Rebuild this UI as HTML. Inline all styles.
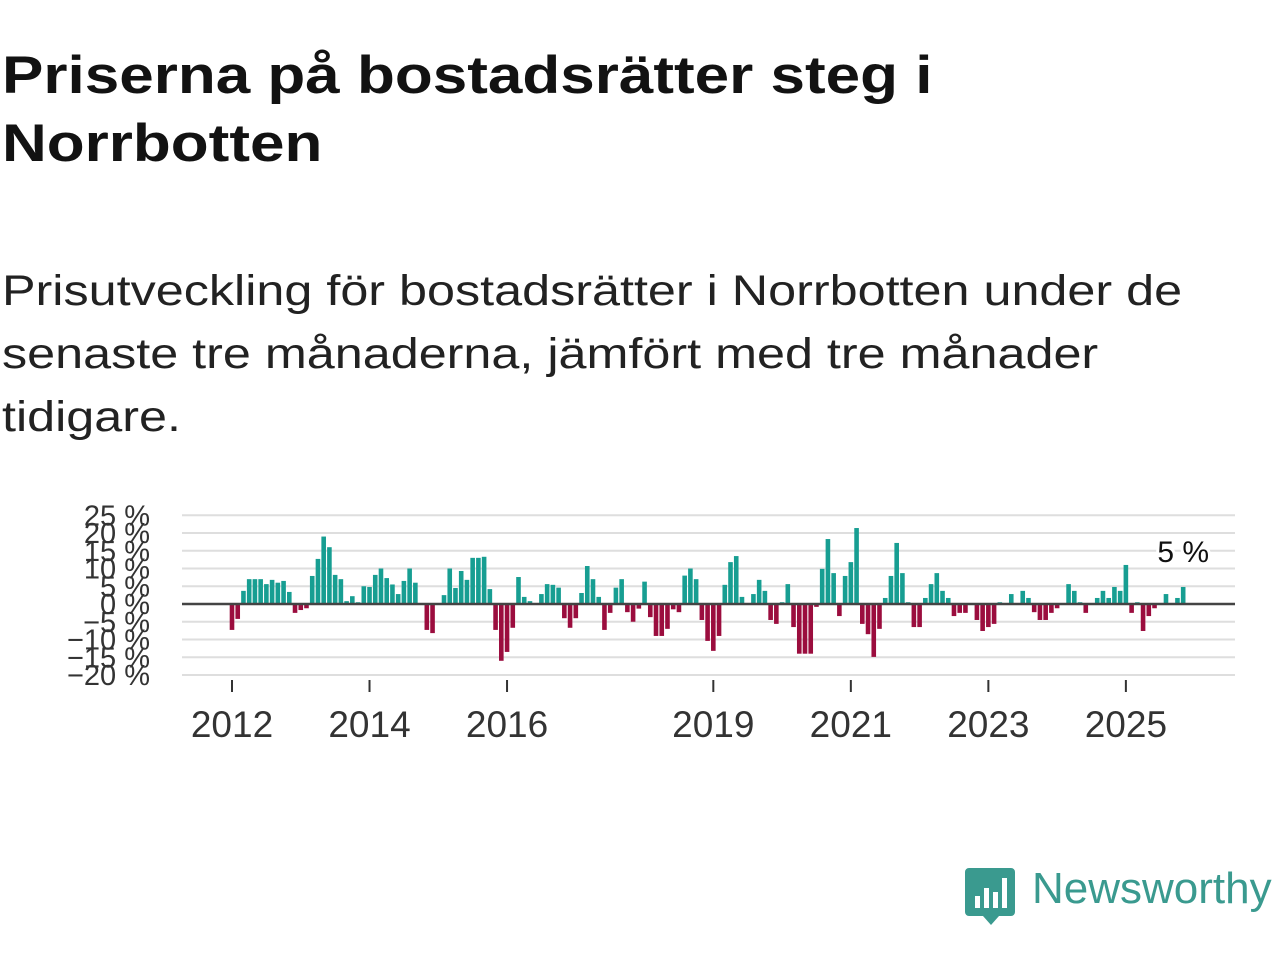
<!DOCTYPE html>
<html><head><meta charset="utf-8">
<style>
body{margin:0;width:1280px;height:960px;background:#fff;font-family:"Liberation Sans",sans-serif;overflow:hidden;position:relative;color:#111}
h1{position:absolute;left:2px;top:42px;margin:0;font-size:53px;line-height:68px;font-weight:bold;color:#121212;transform:scaleX(1.17);transform-origin:0 0;white-space:nowrap}
p{position:absolute;left:2px;top:260px;margin:0;font-size:43px;line-height:63px;color:#222;transform:scaleX(1.17);transform-origin:0 0;white-space:nowrap}
svg{position:absolute;left:0;top:0}
</style></head><body>
<h1>Priserna på bostadsrätter steg i<br>Norrbotten</h1>
<p>Prisutveckling för bostadsrätter i Norrbotten under de<br>senaste tre månaderna, jämfört med tre månader<br>tidigare.</p>
<svg width="1280" height="960" id="chart"></svg>
<div style="position:absolute;left:965px;top:866px">
<svg width="52" height="60" style="position:static"><path d="M4 2h42a4 4 0 0 1 4 4v40a4 4 0 0 1-4 4H34l-8 9-8-9H4a4 4 0 0 1-4-4V6a4 4 0 0 1 4-4z" fill="#3a9a8f"/><rect x="10" y="30" width="5" height="12" fill="#fff"/><rect x="19" y="22" width="5" height="20" fill="#fff"/><rect x="28" y="26" width="5" height="16" fill="#fff"/><rect x="37" y="12" width="5" height="30" fill="#fff"/></svg>
<span style="position:absolute;left:67px;top:-2px;font-size:44px;color:#3a9a8f;font-family:'Liberation Sans',sans-serif;white-space:nowrap">Newsworthy</span>
</div>
<script>
const yTicks=[25,20,15,10,5,0,-5,-10,-15,-20];
const yearLabels=["2012","2014","2016","2019","2021","2023","2025"];
const yearValues=[2012,2014,2016,2019,2021,2023,2025];
const startYear=2012;
const values=[
-7.3,-4.2,3.7,7,7,7,5.6,6.8,6,6.5,3.4,-2.5,
-1.7,-1.2,7.9,12.7,19,16,8.2,7,0.8,2.2,0.5,5,
4.8,8.2,10,7.3,5.5,2.8,6.5,10,6,0,-7.3,-8.2,
0,2.5,10,4.5,9.3,6.8,13,13,13.3,4.2,-7.3,-16,
-13.5,-6.7,7.6,2,0.8,0,2.8,5.6,5.4,4.6,-4,-6.7,
-4,3.1,10.7,7,2,-7.3,-2.5,4.6,7,-2.3,-5,-1.3,
6.3,-3.7,-9,-9,-7,-1.5,-2.3,8,10,7,-4.5,-10.4,
-13.2,-9,5.4,11.8,13.5,2,0,2.8,6.8,3.7,-4.5,-5.6,
0.5,5.6,-6.5,-14,-14,-14,-0.8,9.9,18.3,8.7,-3.4,7.9,
11.8,21.4,-5.6,-8.5,-14.9,-7,1.7,7.9,17.2,8.7,0.5,-6.5,
-6.5,1.7,5.6,8.7,3.7,1.7,-3.4,-2.5,-2.5,0,-4.5,-7.6,
-6.5,-5.6,0.5,0,2.8,0,3.7,1.7,-2.3,-4.5,-4.5,-2.5,
-1.2,0,5.6,3.7,0.5,-2.5,0,1.7,3.7,1.7,4.8,3.7,
11,-2.5,0.5,-7.6,-3.4,-1.2,0,2.8,0,1.7,4.8];
const lastLabel="5 %";
const NS="http://www.w3.org/2000/svg";
const svg=document.getElementById('chart');
const y=v=>604-v*3.55;
const x=m=>232+m*5.73;
function mk(t,a){const e=document.createElementNS(NS,t);for(const k in a)e.setAttribute(k,a[k]);svg.appendChild(e);return e;}
yTicks.forEach(t=>{
 const g=mk('line',{x1:182,x2:1235,y1:y(t),y2:y(t),stroke:'#dedede','stroke-width':2});
 
 
 const tx=mk('text',{x:150,y:y(t)+10,'text-anchor':'end','font-size':29,fill:'#333','font-family':'Liberation Sans, sans-serif'});
 tx.textContent=(t<0?'\u2212'+(-t):t)+' %';
 
 
});
values.forEach((v,i)=>{
 const r=mk('rect',{x:x(i)-2.3,width:4.6,y:Math.min(y(v),y(0)),height:Math.abs(y(v)-y(0)),fill:v>=0?'#179e92':'#9b0d3e'});
 
 
});
const z=mk('line',{x1:182,x2:1235,y1:y(0),y2:y(0),stroke:'#444','stroke-width':2.5});


yearValues.forEach((yr,i)=>{
 const xx=x((yr-startYear)*12);
 const tk=mk('line',{x1:xx,x2:xx,y1:680,y2:692,stroke:'#333','stroke-width':2});
 
 
 const tx=mk('text',{x:xx,y:737,'text-anchor':'middle','font-size':37,fill:'#333','font-family':'Liberation Sans, sans-serif'});
 tx.textContent=yearLabels[i];
 
 
});
const li=values.length-1;
const lbl=mk('text',{x:x(li),y:y(values[li])-25,'text-anchor':'middle','font-size':30,fill:'#111',stroke:'#fff','stroke-width':6,'paint-order':'stroke','font-family':'Liberation Sans, sans-serif'});
lbl.textContent=lastLabel;


</script>
</body></html>
